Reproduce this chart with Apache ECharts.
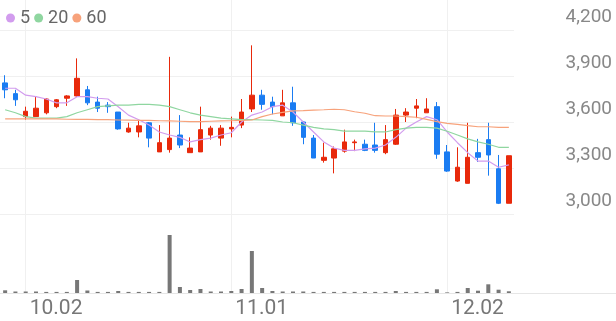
<!DOCTYPE html>
<html><head><meta charset="utf-8">
<script src="https://cdn.jsdelivr.net/npm/echarts@6/dist/echarts.min.js"></script>
<style>html,body{margin:0;padding:0;background:#fff}#c{width:616px;height:321px}</style>
</head><body><div id="c"></div>
<script>
const dates = ['09.27','09.30','10.02','10.04','10.07','10.08','10.10','10.11','10.14','10.15','10.16','10.17','10.18','10.21','10.22','10.23','10.24','10.25','10.28','10.29','10.30','10.31','11.01','11.04','11.05','11.06','11.07','11.08','11.11','11.12','11.13','11.14','11.15','11.18','11.19','11.20','11.21','11.22','11.25','11.26','11.27','11.28','11.29','12.02','12.03','12.04','12.05','12.06','12.09','12.10'];
const opens  = [3855,3785,3635,3635,3660,3700,3755,3770,3810,3730,3710,3665,3535,3535,3595,3405,3420,3515,3400,3405,3515,3495,3555,3580,3685,3775,3730,3640,3725,3600,3495,3350,3365,3410,3465,3455,3450,3400,3455,3645,3690,3660,3700,3405,3215,3200,3400,3485,3295,3070];
const closes = [3810,3745,3670,3690,3750,3745,3770,3885,3725,3690,3700,3555,3560,3575,3495,3465,3495,3450,3430,3550,3560,3560,3565,3665,3775,3715,3700,3725,3595,3500,3365,3370,3425,3470,3470,3415,3415,3485,3645,3665,3705,3685,3390,3280,3305,3370,3370,3385,3070,3380];
const lows   = [3755,3705,3615,3635,3650,3690,3705,3765,3710,3665,3660,3550,3530,3500,3435,3405,3400,3430,3400,3405,3485,3445,3500,3560,3665,3680,3650,3640,3575,3455,3365,3335,3265,3400,3410,3410,3400,3390,3450,3600,3625,3660,3360,3275,3210,3200,3340,3250,3065,3070];
const highs  = [3905,3810,3700,3765,3755,3750,3775,4015,3835,3765,3730,3665,3595,3615,3600,3580,4025,3645,3500,3700,3575,3580,3635,3750,4100,3810,3765,3810,3830,3605,3515,3465,3440,3550,3485,3485,3595,3580,3685,3690,3750,3755,3730,3450,3435,3595,3490,3595,3385,3380];
const ma5  = [3820,3820,3775,3765,3750,3725,3725,3765,3765,3755,3750,3700,3645,3615,3580,3535,3515,3500,3470,3485,3495,3515,3530,3600,3645,3665,3700,3710,3665,3600,3535,3470,3430,3415,3415,3425,3430,3450,3500,3560,3600,3635,3615,3535,3465,3400,3345,3345,3305,3320];
const ma20 = [3680,3660,3635,3625,3625,3625,3635,3660,3680,3700,3705,3710,3710,3715,3715,3710,3700,3680,3660,3645,3635,3625,3620,3615,3615,3613,3610,3600,3595,3580,3565,3555,3550,3540,3540,3540,3535,3535,3550,3560,3565,3565,3560,3540,3515,3490,3470,3455,3435,3435];
const ma60 = [3620,3620,3620,3620,3620,3620,3618,3617,3617,3616,3615,3613,3612,3611,3610,3608,3607,3605,3602,3603,3605,3607,3608,3610,3613,3635,3652,3663,3672,3674,3678,3680,3683,3680,3667,3657,3641,3639,3639,3635,3631,3617,3602,3591,3585,3576,3569,3569,3565,3565];
const volumes = [270,150,150,150,110,110,110,1300,250,110,110,200,110,110,110,110,5800,600,300,400,150,150,200,400,4200,500,200,150,150,150,110,110,110,110,110,110,110,110,200,110,110,110,370,60,110,500,230,870,330,170];
const priceTicks = [3000,3300,3600,3900,4200];

const UP = '#e8290b', DOWN = '#1a7cf2';
const candles = dates.map((d,i)=>[opens[i],closes[i],lows[i],highs[i]]);
const monthStart = (i)=> i>0 && dates[i].slice(0,2)!==dates[i-1].slice(0,2);
const font = 'Roboto, sans-serif';
const chart = echarts.init(document.getElementById('c'));
chart.setOption({
  animation:false,
  backgroundColor:'#fff',
  legend:{
    data:['5','20','60'], left:1, top:4, icon:'circle', itemWidth:9, itemHeight:9, itemGap:4,
    textStyle:{fontSize:18, color:'#666', fontFamily:font}
  },
  grid:[
    {left:0, width:514, top:0, height:293},
    {left:0, width:514, top:30, height:184},
    {left:0, width:514, top:233, height:60},
    {left:0, right:0, top:292, height:1}
  ],
  xAxis:[
    {gridIndex:0, type:'category', data:dates, boundaryGap:true,
     axisLine:{show:false}, axisTick:{show:false},
     axisLabel:{interval:(i)=>monthStart(i), align:'left', padding:[0,0,0,4], margin:5,
       fontSize:21, color:'#777', fontFamily:font},
     splitLine:{show:true, interval:(i)=>monthStart(i), alignWithLabel:true, lineStyle:{color:'#f0f0f0', width:1}}},
    {gridIndex:1, type:'category', data:dates, boundaryGap:true, show:false},
    {gridIndex:2, type:'category', data:dates, boundaryGap:true, show:false},
    {gridIndex:3, type:'value', min:0, max:1, axisLine:{show:true, lineStyle:{color:'#e6e6e6'}},
     axisTick:{show:false}, axisLabel:{show:false}, splitLine:{show:false}}
  ],
  yAxis:[
    {gridIndex:0, type:'value', show:false, min:0, max:1},
    {gridIndex:1, type:'value', position:'right', min:priceTicks[0], max:priceTicks[priceTicks.length-1], interval:300,
     axisLine:{show:false}, axisTick:{show:false},
     splitLine:{show:true, lineStyle:{color:'#f0f0f0'}},
     axisLabel:{align:'right', margin:98, verticalAlign:'bottom', padding:[0,0,3,0],
       fontSize:19, color:'#888', fontFamily:font,
       formatter:(v)=>v.toLocaleString('en-US')}},
    {gridIndex:2, type:'value', show:false, min:0, max:6000},
    {gridIndex:3, type:'value', show:false, min:0, max:1}
  ],
  series:[
    {name:'candle', type:'candlestick', xAxisIndex:1, yAxisIndex:1, data:candles, barWidth:5,
     itemStyle:{color:UP, color0:DOWN, borderColor:UP, borderColor0:DOWN, borderWidth:1}},
    {name:'5', type:'line', xAxisIndex:1, yAxisIndex:1, data:ma5, showSymbol:false, symbol:'circle',
     itemStyle:{color:'#d29cee'}, lineStyle:{color:'#d29cee', width:1.2}},
    {name:'20', type:'line', xAxisIndex:1, yAxisIndex:1, data:ma20, showSymbol:false, symbol:'circle',
     itemStyle:{color:'#8fd6a0'}, lineStyle:{color:'#8fd6a0', width:1.2}},
    {name:'60', type:'line', xAxisIndex:1, yAxisIndex:1, data:ma60, showSymbol:false, symbol:'circle',
     itemStyle:{color:'#f7a27b'}, lineStyle:{color:'#f7a27b', width:1.2}},
    {name:'vol', type:'bar', xAxisIndex:2, yAxisIndex:2, data:volumes, barWidth:4,
     itemStyle:{color:'#777'}}
  ]
});
</script></body></html>
